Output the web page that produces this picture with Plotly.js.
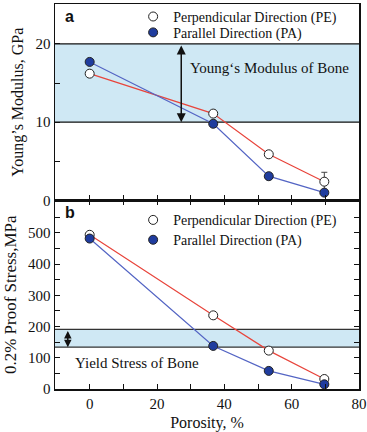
<!DOCTYPE html>
<html><head><meta charset="utf-8">
<script src="https://cdn.plot.ly/plotly-3.0.1.min.js"></script>
<style>html,body{margin:0;padding:0;background:#fff;}#chart{width:367px;height:432px;}</style>
</head><body><div id="chart"></div>
<script>
const porosity = [0, 36.7, 53.2, 69.7];
const youngPE = [16.2, 11.1, 5.9, 2.4];
const youngPEerr = [0, 0, 0, 1.2];
const youngPA = [17.7, 9.8, 3.1, 1.0];
const stressPE = [494, 236, 123, 32];
const stressPA = [482, 138, 58, 15];
const boneModulus = [10, 20];
const boneYield = [134, 191];
const namePE = 'Perpendicular Direction (PE)';
const namePA = 'Parallel Direction (PA)';

const serif = '"Liberation Serif", "Times New Roman", serif';
const sans = '"Liberation Sans", Arial, sans-serif';
const redLine = '#e8453c', blueLine = '#5465c4', paFill = '#1f3c9e';
const band = '#cfe8f4';

const peMarker = {symbol:'circle', size:9, color:'#ffffff', line:{color:'#222', width:1}};
const paMarker = {symbol:'circle', size:9, color:paFill, line:{color:'#222', width:1}};

const traces = [
  {x:porosity, y:youngPE, xaxis:'x2', yaxis:'y2', mode:'lines+markers', line:{color:redLine, width:1.2}, marker:peMarker,
   error_y:{type:'data', array:youngPEerr, visible:true, color:'#444', thickness:1, width:3}, showlegend:false},
  {x:porosity, y:youngPA, xaxis:'x2', yaxis:'y2', mode:'lines+markers', line:{color:blueLine, width:1.2}, marker:paMarker, showlegend:false},
  {x:porosity, y:stressPE, xaxis:'x', yaxis:'y', mode:'lines+markers', line:{color:redLine, width:1.2}, marker:peMarker, showlegend:false},
  {x:porosity, y:stressPA, xaxis:'x', yaxis:'y', mode:'lines+markers', line:{color:blueLine, width:1.2}, marker:paMarker, showlegend:false},
  // legend entries (one legend per row for exact placement)
  {x:[null], y:[null], xaxis:'x2', yaxis:'y2', mode:'markers', marker:peMarker, name:namePE, legend:'legend'},
  {x:[null], y:[null], xaxis:'x2', yaxis:'y2', mode:'markers', marker:paMarker, name:namePA, legend:'legend2'},
  {x:[null], y:[null], xaxis:'x', yaxis:'y', mode:'markers', marker:peMarker, name:namePE, legend:'legend3'},
  {x:[null], y:[null], xaxis:'x', yaxis:'y', mode:'markers', marker:paMarker, name:namePA, legend:'legend4'}
];

const splitB = 190/388;
const axCommon = {showline:true, linecolor:'#111', linewidth:1.5, ticks:'inside', ticklen:5, tickwidth:1, tickcolor:'#111',
  showgrid:false, zeroline:false, tickfont:{family:serif, size:15, color:'#111'}};

const xTicks = [0,10,20,30,40,50,60,70,80];
const xText = xTicks.map(v => v % 20 === 0 ? String(v) : '');
const yaTicks = [0,5,10,15,20];
const yaText = yaTicks.map(v => v % 10 === 0 ? String(v) : '');
const ybTicks = [0,50,100,150,200,250,300,350,400,450,500,550];
const ybText = ybTicks.map(v => v % 100 === 0 ? String(v) : '');

function leg(yPix) {
  return {x:0.257, y:(389 - yPix)/388, xanchor:'left', yanchor:'middle', bgcolor:'rgba(0,0,0,0)',
    font:{family:serif, size:14, color:'#111'}, itemwidth:30, borderwidth:0};
}

const layout = {
  width:367, height:432,
  margin:{l:55, r:8, t:1, b:43},
  paper_bgcolor:'#fff', plot_bgcolor:'#fff',
  font:{family:serif, color:'#111'},
  xaxis:Object.assign({}, axCommon, {domain:[0,1], range:[-10.3,80], anchor:'y', tickmode:'array', tickvals:xTicks, ticktext:xText,
    mirror:'ticks', title:{text:'Porosity, %', font:{family:serif, size:16, color:'#111'}, standoff:8}}),
  yaxis:Object.assign({}, axCommon, {domain:[0,splitB], range:[0,604], anchor:'x', tickmode:'array', tickvals:ybTicks, ticktext:ybText,
    mirror:'ticks', title:{text:'0.2% Proof Stress,MPa', font:{family:serif, size:17, color:'#111'}, standoff:7}}),
  xaxis2:Object.assign({}, axCommon, {domain:[0,1], range:[-10.3,80], anchor:'y2', tickmode:'array', tickvals:xTicks,
    showticklabels:false, mirror:true}),
  yaxis2:Object.assign({}, axCommon, {domain:[splitB,1], range:[0,25.1], anchor:'x2', tickmode:'array', tickvals:yaTicks, ticktext:yaText,
    mirror:true, title:{text:'Young’s Modulus, GPa', font:{family:serif, size:16, color:'#111'}, standoff:8}}),
  legend:leg(14), legend2:leg(30), legend3:leg(219), legend4:leg(239),
  shapes:[
    {type:'rect', xref:'paper', yref:'y2', x0:0, x1:1, y0:boneModulus[0], y1:boneModulus[1], fillcolor:band, line:{width:0}, layer:'below'},
    {type:'line', xref:'paper', yref:'y2', x0:0, x1:1, y0:boneModulus[0], y1:boneModulus[0], line:{color:'#111', width:1.2}, layer:'below'},
    {type:'line', xref:'paper', yref:'y2', x0:0, x1:1, y0:boneModulus[1], y1:boneModulus[1], line:{color:'#111', width:1.2}, layer:'below'},
    {type:'rect', xref:'paper', yref:'y', x0:0, x1:1, y0:boneYield[0], y1:boneYield[1], fillcolor:band, line:{width:0}, layer:'below'},
    {type:'line', xref:'paper', yref:'y', x0:0, x1:1, y0:boneYield[0], y1:boneYield[0], line:{color:'#333', width:1.2}, layer:'below'},
    {type:'line', xref:'paper', yref:'y', x0:0, x1:1, y0:boneYield[1], y1:boneYield[1], line:{color:'#333', width:1.2}, layer:'below'}
  ],
  annotations:[
    {xref:'x2', yref:'y2', axref:'x2', ayref:'y2', x:27.2, y:boneModulus[0], ax:27.2, ay:boneModulus[1], text:'', showarrow:true,
      arrowside:'end+start', arrowhead:2, startarrowhead:2, arrowsize:1.2, startarrowsize:1.2, arrowwidth:1.5, arrowcolor:'#111'},
    {xref:'x', yref:'y', axref:'x', ayref:'y', x:-6.5, y:boneYield[0], ax:-6.5, ay:boneYield[1], text:'', showarrow:true,
      arrowside:'end+start', arrowhead:2, startarrowhead:2, arrowsize:1, startarrowsize:1, arrowwidth:1.5, arrowcolor:'#111'},
    {xref:'x2', yref:'y2', x:29.2, y:16.9, text:'Young‘s Modulus of Bone', showarrow:false, xanchor:'left', yanchor:'middle',
      font:{family:serif, size:15, color:'#111'}},
    {xref:'x', yref:'y', x:-4.9, y:83, text:'Yield Stress of Bone', showarrow:false, xanchor:'left', yanchor:'middle',
      font:{family:serif, size:15, color:'#111'}},
    {xref:'paper', yref:'paper', x:0.025, y:0.995, text:'<b>a</b>', showarrow:false, xanchor:'left', yanchor:'top',
      font:{family:sans, size:16, color:'#111'}},
    {xref:'paper', yref:'paper', x:0.025, y:splitB-0.005, text:'<b>b</b>', showarrow:false, xanchor:'left', yanchor:'top',
      font:{family:sans, size:16, color:'#111'}}
  ]
};

Plotly.newPlot('chart', traces, layout, {displayModeBar:false, staticPlot:true});
</script></body></html>
